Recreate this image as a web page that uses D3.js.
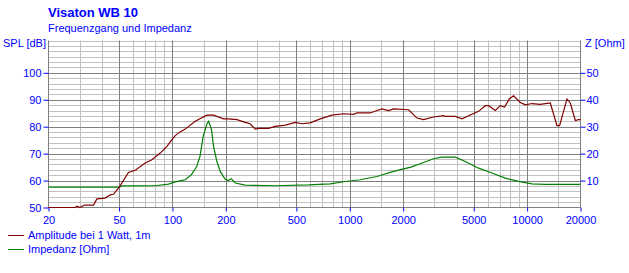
<!DOCTYPE html>
<html>
<head>
<meta charset="utf-8">
<script src="https://cdn.jsdelivr.net/npm/d3@7"></script>
<style>
  html, body { margin: 0; padding: 0; background: #fff; }
  svg { display: block; font-family: "Liberation Sans", Arial, sans-serif; }
  text { fill: #0000ff; }
</style>
</head>
<body>
<svg id="chart" width="629" height="273"></svg>
<script>
// ---- data ----
const splFreq = [20, 28.3, 29, 30, 32, 35.9, 37.5, 41.8, 44.6, 46.5, 50.1, 56.5, 61.7, 70.2, 76.6, 85.3, 93.1, 99.3, 103.7, 108.2, 118, 134.4, 156.5, 170.5, 194, 207, 231, 257, 274, 293, 306, 348, 380, 433, 493, 537, 598, 681, 793, 922, 1050, 1098, 1305, 1423, 1518, 1655, 1766, 2146, 2393, 2606, 2968, 3382, 3456, 3934, 4292, 4887, 5326, 5808, 6063, 6614, 7060, 7466, 7934, 8390, 9154, 9768, 10652, 11868, 13510, 14740, 15246, 16782, 17520, 18697, 19514, 20000];
const splValue = [50, 50, 50.5, 50, 50.9, 50.9, 53.2, 53.5, 54.7, 54.9, 57.6, 63, 63.8, 66.5, 67.7, 70.2, 72.7, 75.2, 76.7, 77.7, 79.1, 82, 84.3, 84.3, 82.9, 82.9, 82.6, 81.6, 81.1, 79.1, 79.4, 79.4, 80.1, 80.6, 81.6, 81.1, 81.4, 82.9, 84.3, 84.8, 84.6, 85.1, 85.1, 86, 86.6, 86, 86.6, 86.3, 83.2, 82.6, 83.6, 84.1, 83.8, 83.8, 82.9, 84.6, 85.7, 87.8, 87.8, 86, 87.8, 87.3, 90.3, 91.5, 89, 88.1, 88.6, 88.3, 88.8, 80.4, 80.4, 90.3, 88.8, 82.3, 82.6, 82.6];

const impFreq = [20, 50, 52, 80, 95, 103.7, 110, 118, 128, 137, 143, 149, 156.5, 160, 166, 170.5, 178, 186, 198, 205.5, 214.6, 226, 257, 380, 585, 776, 922, 1146, 1423, 1766, 2211, 2606, 2968, 3300, 3934, 4480, 5326, 6336, 7530, 8950, 10652, 12660, 20000];
const impValue = [7.6, 7.6, 8.0, 8.07, 8.7, 9.5, 9.9, 10.3, 12.2, 15.2, 19, 26.4, 31.1, 32, 28.9, 22.7, 17.1, 13.4, 10.6, 10.0, 10.7, 9.1, 8.3, 8.07, 8.4, 8.8, 9.55, 10.3, 11.5, 13.4, 15, 16.7, 18.1, 18.7, 18.7, 17.1, 14.6, 12.8, 10.9, 9.7, 8.8, 8.55, 8.55];

const xTicks = [20, 50, 100, 200, 500, 1000, 2000, 5000, 10000, 20000];
const xMinorGrid = [30, 40, 60, 70, 80, 90, 150, 300, 400, 600, 700, 800, 900, 1500, 3000, 4000, 6000, 7000, 8000, 9000, 15000];
const xMajorGrid = [50, 100, 200, 500, 1000, 2000, 5000, 10000];
const splTicks = [50, 60, 70, 80, 90, 100];
const zTicks = [10, 20, 30, 40, 50];

const titleText = "Visaton WB 10";
const subtitleText = "Frequenzgang und Impedanz";
const legendLabels = ["Amplitude bei 1 Watt, 1m", "Impedanz [Ohm]"];

// ---- scales ----
const svg = d3.select("#chart");
const L = 48.5, R = 580.5, B = 207.5, T = 40.5;
const x = d3.scaleLog().domain([20, 20000]).range([L, R]);
const y = d3.scaleLinear().domain([50, 112]).range([B, T]);
const yZ = d3.scaleLinear().domain([0, 62]).range([B, T]);

svg.append("rect").attr("width", 629).attr("height", 273).attr("fill", "#fff");

// ---- grid ----
const g = svg.append("g");
const minorH = d3.range(52, 113, 2).filter(v => v % 10 !== 0 || v === 110);
g.selectAll(".hmin").data(minorH).enter().append("line")
  .attr("x1", L).attr("x2", R).attr("y1", d => Math.round(y(d)) + 0.5).attr("y2", d => Math.round(y(d)) + 0.5)
  .attr("stroke", "#c0c0c0").attr("stroke-width", 1);
g.selectAll(".vmin").data(xMinorGrid).enter().append("line")
  .attr("x1", d => Math.round(x(d)) + 0.5).attr("x2", d => Math.round(x(d)) + 0.5).attr("y1", T).attr("y2", B)
  .attr("stroke", "#c0c0c0").attr("stroke-width", 1);
g.selectAll(".hmaj").data([60, 70, 80, 90, 100]).enter().append("line")
  .attr("x1", L).attr("x2", R).attr("y1", d => Math.round(y(d)) + 0.5).attr("y2", d => Math.round(y(d)) + 0.5)
  .attr("stroke", "#808080").attr("stroke-width", 1);
g.selectAll(".vmaj").data(xMajorGrid).enter().append("line")
  .attr("x1", d => Math.round(x(d)) + 0.5).attr("x2", d => Math.round(x(d)) + 0.5).attr("y1", T).attr("y2", B)
  .attr("stroke", "#808080").attr("stroke-width", 1);
// frame
g.append("line").attr("x1", L).attr("x2", L).attr("y1", T).attr("y2", B).attr("stroke", "#808080");
g.append("line").attr("x1", R).attr("x2", R).attr("y1", T).attr("y2", B).attr("stroke", "#808080");
g.append("line").attr("x1", L).attr("x2", R).attr("y1", B).attr("y2", B).attr("stroke", "#808080");

// ---- axes ----
function styleAxis(sel) {
  sel.select(".domain").remove();
  sel.selectAll(".tick line").attr("stroke", "#0000ff");
  sel.selectAll(".tick text").attr("fill", "#0000ff").attr("font-size", 11)
     .attr("font-family", "Liberation Sans, Arial, sans-serif");
}
svg.append("g").attr("transform", `translate(${L},0)`)
  .call(d3.axisLeft(y).tickValues(splTicks).tickSize(5).tickPadding(2).tickFormat(d3.format("d")))
  .call(styleAxis);
svg.append("g").attr("transform", `translate(${R},0)`)
  .call(d3.axisRight(yZ).tickValues(zTicks).tickSize(5).tickPadding(1).tickFormat(d3.format("d")))
  .call(styleAxis);
svg.append("g").attr("transform", `translate(0,${B})`)
  .call(d3.axisBottom(x).tickValues(xTicks).tickSize(4).tickPadding(5).tickFormat(d3.format("d")))
  .call(styleAxis);

// ---- curves ----
const lineSpl = d3.line().x((d, i) => x(splFreq[i])).y(d => y(d));
const lineImp = d3.line().x((d, i) => x(impFreq[i])).y(d => yZ(d));
svg.append("path").datum(impValue).attr("d", lineImp)
  .attr("fill", "none").attr("stroke", "#008000").attr("stroke-width", 1.2);
svg.append("path").datum(splValue).attr("d", lineSpl)
  .attr("fill", "none").attr("stroke", "#800000").attr("stroke-width", 1.2);

// ---- texts ----
svg.append("text").attr("x", 48).attr("y", 16.7).attr("font-size", 13).attr("font-weight", "bold").text(titleText);
svg.append("text").attr("x", 48).attr("y", 31.5).attr("font-size", 11).text(subtitleText);
svg.append("text").attr("x", 3).attr("y", 47).attr("font-size", 11).text("SPL [dB]");
svg.append("text").attr("x", 585).attr("y", 47).attr("font-size", 11).text("Z [Ohm]");

// ---- legend ----
const legColors = ["#800000", "#008000"];
const legY = [235.5, 249.5];
legendLabels.forEach((lab, i) => {
  svg.append("line").attr("x1", 8).attr("x2", 24).attr("y1", legY[i]).attr("y2", legY[i])
    .attr("stroke", legColors[i]).attr("stroke-width", 1);
  svg.append("text").attr("x", 28).attr("y", legY[i] + 3.8).attr("font-size", 11).text(lab);
});
</script>
</body>
</html>
